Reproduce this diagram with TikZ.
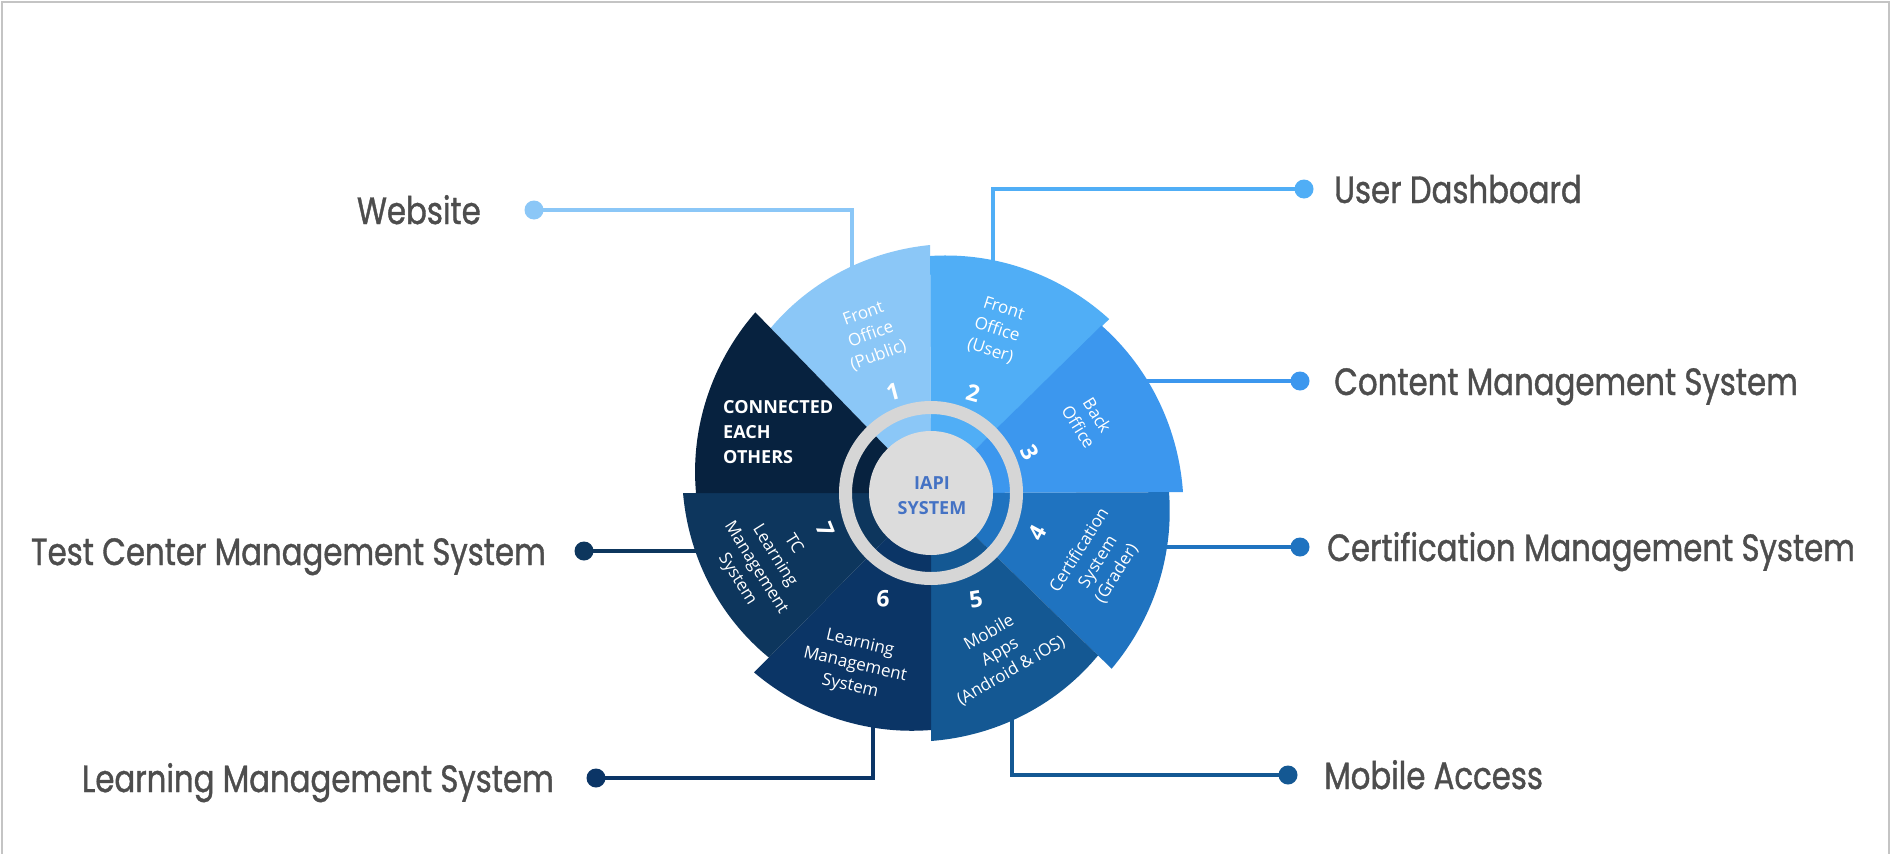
\documentclass[tikz,border=0pt]{standalone}
\usepackage{fontspec}
\setmainfont{Open Sans}
\newfontfamily\labelfont[FakeStretch=0.81,FakeBold=1]{Poppins}
\usetikzlibrary{calc}
\definecolor{cA}{HTML}{8BC7F7}
\definecolor{cB}{HTML}{50AEF6}
\definecolor{cC}{HTML}{3C97EE}
\definecolor{cD}{HTML}{1F73C0}
\definecolor{cE}{HTML}{145893}
\definecolor{cF}{HTML}{0B3566}
\definecolor{cG}{HTML}{0D365D}
\definecolor{cH}{HTML}{07223F}
\definecolor{framegrey}{HTML}{C4C4C4}
\definecolor{ringgrey}{HTML}{D6D6D6}
\definecolor{diskgrey}{HTML}{DCDCDC}
\definecolor{labelgrey}{HTML}{4D4D4D}
\definecolor{iapiblue}{HTML}{4472C4}
\newcommand\wheelpart[5]{\fill[#1] (0,0) -- plot[domain=#2:#4, samples=40] (\x:{#3+(#5-#3)*(#2-(\x))/(#2-(#4))}) -- cycle;}
\tikzset{
  lbl/.style={font=\labelfont\fontsize{38}{40}\selectfont, text=labelgrey, inner sep=0pt},
  conn/.style={line width=4pt},
  dotmark/.style={circle, inner sep=0pt, minimum size=19pt},
  sectxt/.style={font=\fontsize{17}{22}\selectfont, text=white, align=center, inner sep=0pt},
  secnum/.style={font=\bfseries\fontsize{23}{25}\selectfont, text=white, inner sep=0pt}
}
\begin{document}
\begin{tikzpicture}[x=1pt,y=-1pt]
\useasboundingbox (0,0) rectangle (1891,854);
\fill[white] (0,0) rectangle (1891,854);
\draw[framegrey, line width=2pt] (2,854) -- (2,2) -- (1889,2) -- (1889,854);

% dots
\node[dotmark, fill=cA] (dw) at (534,210) {};
\node[dotmark, fill=cB] (du) at (1304,189) {};
\node[dotmark, fill=cC] (dc) at (1300,381) {};
\node[dotmark, fill=cD] (dr) at (1300,547) {};
\node[dotmark, fill=cE] (dm) at (1288,775) {};
\node[dotmark, fill=cF] (dl) at (596,778) {};
\node[dotmark, fill=cG] (dt) at (584,551) {};
% ends hidden under the wheel
\coordinate (ew) at (852,320);
\coordinate (eu) at (993,320);
\coordinate (ec) at (1100,381);
\coordinate (er) at (1100,547);
\coordinate (em) at (1012,680);
\coordinate (el) at (873,680);
\coordinate (et) at (760,551);
\draw[conn, cA] (dw.center) -| (ew);
\draw[conn, cB] (du.center) -| (eu);
\draw[conn, cC] (dc.center) -- (ec);
\draw[conn, cD] (dr.center) -- (er);
\draw[conn, cE] (dm.center) -| (em);
\draw[conn, cF] (dl.center) -| (el);
\draw[conn, cG] (dt.center) -- (et);

% wheel
\begin{scope}[shift={(931pt,-493pt)}, x=1pt, y=1pt]
  \wheelpart{cA}{134.2}{230}{90.2}{248}
  \wheelpart{cB}{90.2}{237}{44.3}{249}
  \wheelpart{cC}{44.5}{239}{0.2}{252}
  \wheelpart{cD}{0.2}{238}{-44.2}{252}
  \wheelpart{cE}{-44.2}{233}{-90}{248}
  \wheelpart{cF}{-90}{237}{-134.6}{252}
  \wheelpart{cG}{-134.6}{231}{-180}{248}
  \wheelpart{cH}{180}{235}{134.2}{252}
  \fill[ringgrey, even odd rule] (0,0) circle (92) (0,0) circle (79);
  \node[circle, fill=diskgrey, minimum size=124pt, inner sep=0pt] (core) at (0,0) {};
\end{scope}

\node[font=\bfseries\fontsize{18}{25}\selectfont, text=iapiblue, align=center, inner sep=0pt] (iapi) at (932,496) {IAPI\\SYSTEM};

% sector texts
\node[sectxt, rotate=20] (t1) at (871,335) {Front\\Office\\(Public)};
\node[sectxt, rotate=-18] (t2) at (997,330) {Front\\Office\\(User)};
\node[sectxt, rotate=-58] (t3) at (1088,421) {Back\\Office};
\node[sectxt, rotate=58] (t4) at (1098,562) {Certification\\System\\(Grader)};
\node[sectxt, rotate=30] (t5) at (1000,652) {Mobile\\Apps\\(Android \& iOS)};
\node[sectxt, rotate=-13] (t6) at (855,665) {Learning\\Management\\System};
\node[sectxt, rotate=-58] (t7) at (765,562) {TC\\Learning\\Management\\System};
\node[font=\bfseries\fontsize{18}{25}\selectfont, text=white, align=left, inner sep=0pt, anchor=west] (t8) at (723,432) {CONNECTED\\EACH\\OTHERS};

\node[secnum, rotate=15] (n1) at (893,392) {1};
\node[secnum, rotate=-15] (n2) at (973,393) {2};
\node[secnum, rotate=-62] (n3) at (1030,452) {3};
\node[secnum, rotate=62] (n4) at (1037,533) {4};
\node[secnum, rotate=10] (n5) at (976,599) {5};
\node[secnum, rotate=-3] (n6) at (883,599) {6};
\node[secnum, rotate=-68] (n7) at (826,530) {7};

% labels
\node[lbl, anchor=base east] (lw) at (481,224) {Website};
\node[lbl, anchor=base west] (lu) at (1334,203) {User Dashboard};
\node[lbl, anchor=base west] (lc) at (1334,395) {Content Management System};
\node[lbl, anchor=base west] (lr) at (1327,561) {Certification Management System};
\node[lbl, anchor=base west] (lm) at (1324,789) {Mobile Access};
\node[lbl, anchor=base east] (ll) at (554,792) {Learning Management System};
\node[lbl, anchor=base east] (lt) at (546,565) {Test Center Management System};
\end{tikzpicture}
\end{document}
